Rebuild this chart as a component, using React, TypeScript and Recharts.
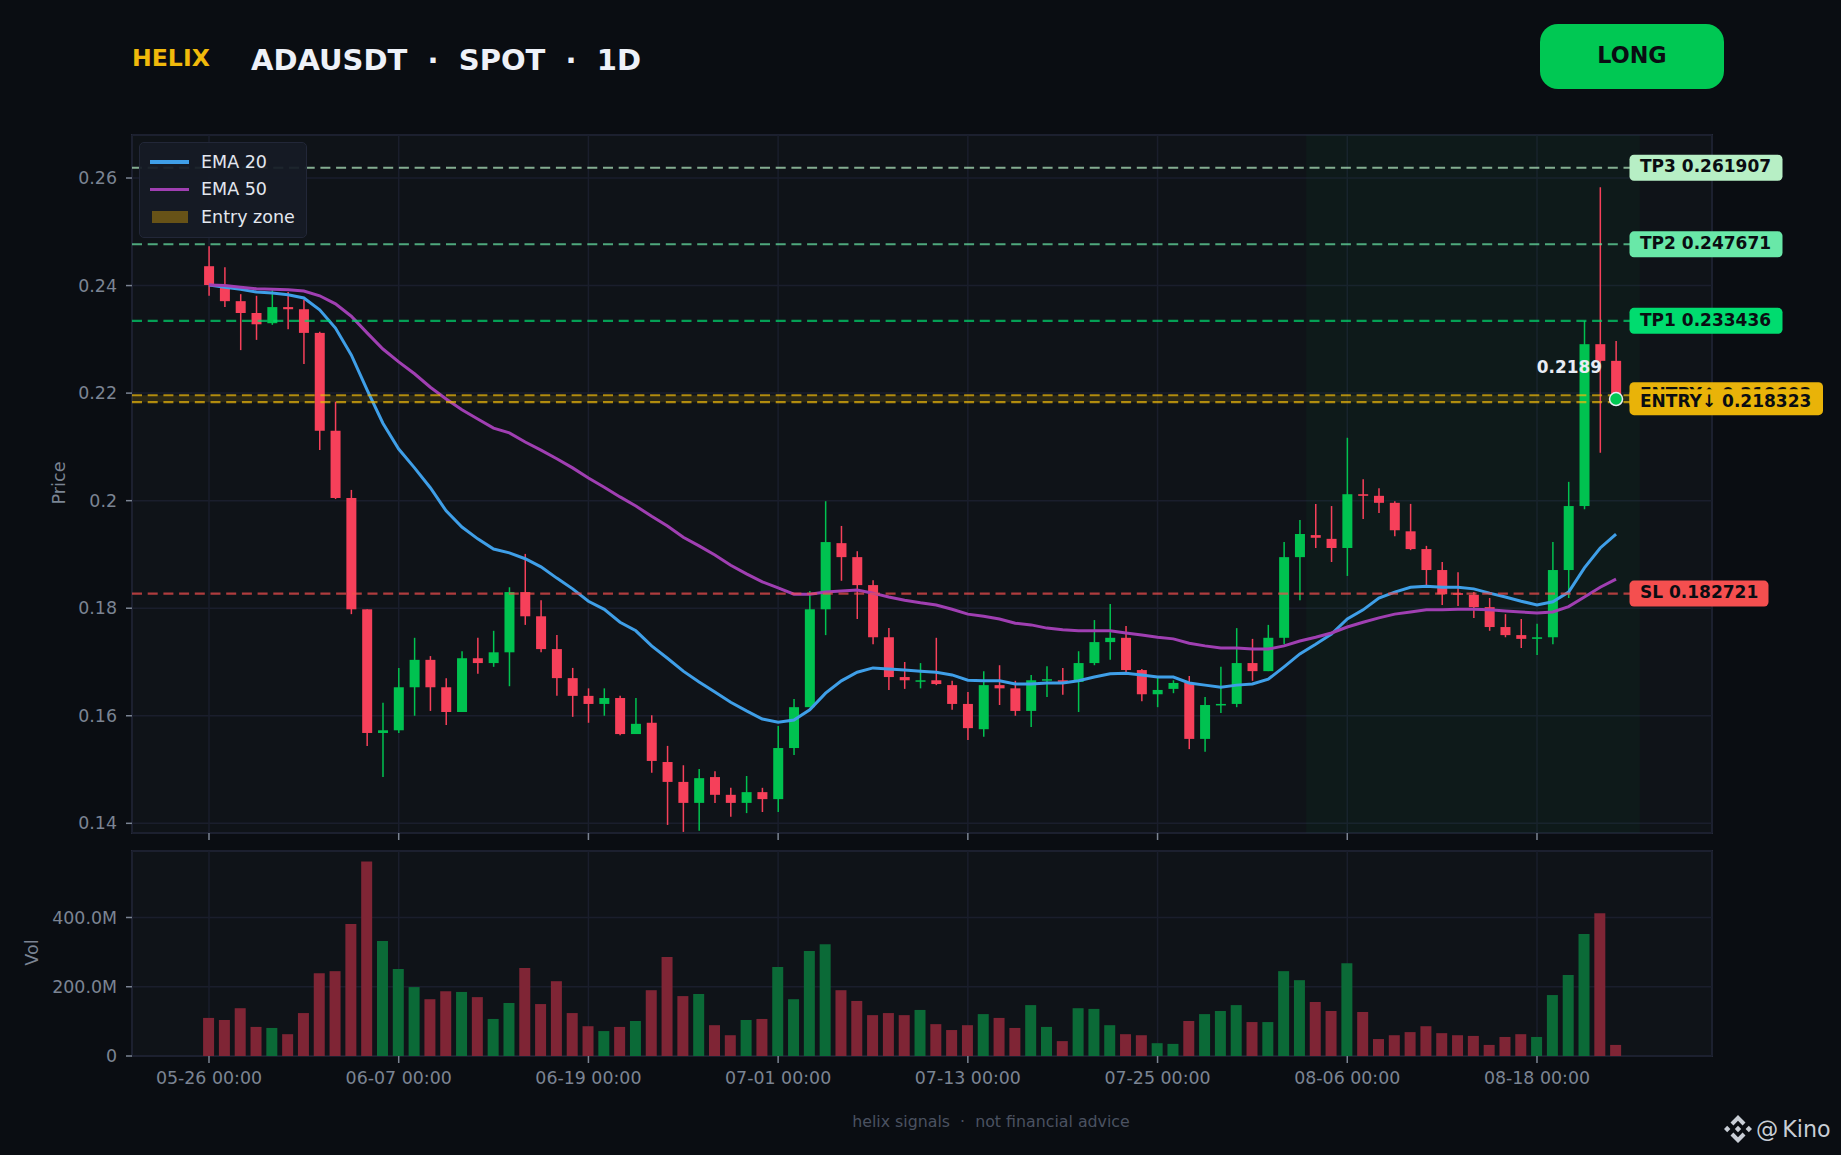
import {
  Bar,
  CartesianGrid,
  Cell,
  ComposedChart,
  Line,
  ReferenceArea,
  ReferenceDot,
  ReferenceLine,
  XAxis,
  YAxis,
} from "recharts";

const opens = [
  0.2436, 0.2401, 0.2371, 0.2349, 0.233, 0.236, 0.2356, 0.2312, 0.213, 0.2005,
  0.1798, 0.1568, 0.1573, 0.1653, 0.1704, 0.1653, 0.1607, 0.1707, 0.1698, 0.1718,
  0.183, 0.1785, 0.1724, 0.167, 0.1637, 0.1622, 0.1633, 0.1566, 0.1587, 0.1514,
  0.1477, 0.1438, 0.1486, 0.1453, 0.1438, 0.1458, 0.1445, 0.154, 0.1616, 0.1798,
  0.1921, 0.1895, 0.1843, 0.1746, 0.1672, 0.1665, 0.1666, 0.1657, 0.1622, 0.1575,
  0.1657, 0.1651, 0.1609, 0.1666, 0.1666, 0.1663, 0.1698, 0.1737, 0.1745, 0.1685,
  0.164, 0.165, 0.1661, 0.1557, 0.162, 0.1622, 0.1698, 0.1683, 0.1745, 0.1895,
  0.1936, 0.1929, 0.1912, 0.2012, 0.2009, 0.1996, 0.1943, 0.191, 0.1871, 0.1828,
  0.1825, 0.1802, 0.1765, 0.175, 0.1743, 0.1746, 0.1871, 0.199, 0.2291, 0.226,
];
const closes = [
  0.2401, 0.2371, 0.2349, 0.2328, 0.236, 0.2356, 0.2312, 0.213, 0.2005, 0.1798,
  0.1568, 0.1573, 0.1653, 0.1704, 0.1653, 0.1607, 0.1707, 0.1698, 0.1718, 0.183,
  0.1785, 0.1724, 0.167, 0.1637, 0.1622, 0.1633, 0.1566, 0.1585, 0.1516, 0.1477,
  0.1438, 0.1484, 0.1453, 0.1438, 0.1458, 0.1445, 0.154, 0.1616, 0.1798, 0.1923,
  0.1895, 0.1843, 0.1746, 0.1672, 0.1666, 0.1666, 0.1659, 0.1622, 0.1577, 0.1657,
  0.1651, 0.1609, 0.1666, 0.1668, 0.1663, 0.1698, 0.1737, 0.1745, 0.1685, 0.164,
  0.1648, 0.1661, 0.1557, 0.162, 0.1622, 0.1698, 0.1683, 0.1745, 0.1895, 0.1938,
  0.1931, 0.1912, 0.2012, 0.2009, 0.1996, 0.1945, 0.191, 0.1871, 0.1826, 0.1825,
  0.1802, 0.1765, 0.175, 0.1743, 0.1746, 0.1871, 0.199, 0.2291, 0.226, 0.2189,
];
const highs = [
  0.2473, 0.2434, 0.2384, 0.2381, 0.2392, 0.2388, 0.2373, 0.2314, 0.2184, 0.202,
  0.1798, 0.1624, 0.1689, 0.1745, 0.1711, 0.167, 0.172, 0.1745, 0.1758, 0.1839,
  0.1901, 0.1815, 0.175, 0.1689, 0.1651, 0.1651, 0.1637, 0.1633, 0.1601, 0.1544,
  0.1508, 0.1501, 0.1497, 0.1466, 0.1488, 0.1466, 0.1581, 0.1631, 0.1832, 0.1999,
  0.1953, 0.1906, 0.1852, 0.1763, 0.17, 0.1698, 0.1745, 0.1665, 0.1644, 0.1683,
  0.1694, 0.1665, 0.1676, 0.1692, 0.1689, 0.172, 0.1778, 0.1808, 0.1767, 0.1687,
  0.1674, 0.1666, 0.1674, 0.1635, 0.1691, 0.1763, 0.1743, 0.1769, 0.1923, 0.1964,
  0.1994, 0.199, 0.2117, 0.204, 0.2023, 0.1999, 0.1994, 0.1916, 0.1886, 0.1867,
  0.183, 0.1819, 0.1789, 0.178, 0.1771, 0.1923, 0.2035, 0.2334, 0.2583, 0.2297,
];
const lows = [
  0.2381, 0.236, 0.228, 0.2299, 0.2327, 0.2319, 0.2254, 0.2094, 0.2003, 0.1789,
  0.1544, 0.1486, 0.1568, 0.16, 0.1609, 0.1583, 0.1607, 0.1678, 0.1691, 0.1655,
  0.1769, 0.1718, 0.1637, 0.1598, 0.1587, 0.16, 0.1564, 0.1566, 0.1494, 0.1397,
  0.1384, 0.1386, 0.1438, 0.1412, 0.1419, 0.1421, 0.1421, 0.1527, 0.1616, 0.175,
  0.1851, 0.178, 0.1733, 0.1648, 0.165, 0.1651, 0.1657, 0.1611, 0.1555, 0.1561,
  0.162, 0.16, 0.1579, 0.1635, 0.1639, 0.1607, 0.1694, 0.1704, 0.1679, 0.1627,
  0.1616, 0.1642, 0.1538, 0.1533, 0.1605, 0.1616, 0.1665, 0.1683, 0.1733, 0.1815,
  0.1912, 0.1886, 0.186, 0.1966, 0.1977, 0.1934, 0.1908, 0.1841, 0.1806, 0.1804,
  0.1782, 0.1758, 0.1746, 0.1726, 0.1713, 0.1733, 0.1819, 0.1984, 0.2089, 0.2189,
];
// volume in millions
const volumes = [
  110, 104, 138, 84, 81, 63, 124, 239, 245, 381,
  562, 332, 251, 199, 164, 187, 185, 170, 107, 153,
  254, 150, 216, 124, 86, 72, 84, 101, 190, 286,
  173, 179, 89, 60, 104, 107, 257, 164, 303, 323,
  190, 159, 118, 124, 118, 133, 92, 75, 89, 121,
  110, 81, 147, 84, 43, 138, 136, 89, 63, 60,
  37, 35, 101, 121, 130, 147, 98, 98, 245, 219,
  156, 130, 268, 127, 49, 60, 69, 86, 66, 60,
  58, 32, 55, 63, 55, 176, 234, 352, 412, 32,
];
const ema20 = [
  0.2401, 0.2397, 0.2393, 0.2388, 0.2386, 0.2383, 0.2377, 0.2355, 0.2321, 0.2271,
  0.2206, 0.2144, 0.2096, 0.2061, 0.2024, 0.1981, 0.1951, 0.1929, 0.191, 0.1903,
  0.1892, 0.1877, 0.1856, 0.1836, 0.1813, 0.1798, 0.1774, 0.1758, 0.173, 0.1707,
  0.1683, 0.1663, 0.1644, 0.1625, 0.1609, 0.1594, 0.1588, 0.1592, 0.1611, 0.1642,
  0.1665, 0.1681, 0.1689, 0.1687, 0.1685, 0.1683, 0.1681, 0.1676, 0.1666, 0.1665,
  0.1665, 0.1659, 0.1659, 0.1661, 0.1661, 0.1665, 0.1672, 0.1678, 0.1679, 0.1676,
  0.1672, 0.1672, 0.1661, 0.1657, 0.1653, 0.1657, 0.1659, 0.1668, 0.1691, 0.1715,
  0.1733, 0.1752, 0.178, 0.1797, 0.1819, 0.183, 0.1839, 0.1841, 0.1839, 0.1839,
  0.1836, 0.1828, 0.1821, 0.1813, 0.1806, 0.1812, 0.183, 0.1875, 0.1912, 0.1938,
];
const ema50 = [
  0.2401, 0.24, 0.2397, 0.2394, 0.2393, 0.2392, 0.239, 0.2381, 0.2366, 0.2343,
  0.2312, 0.2282, 0.2258, 0.2236, 0.2211, 0.2189, 0.2169, 0.2152, 0.2135, 0.2126,
  0.2109, 0.2094, 0.2078, 0.2061, 0.2042, 0.2025, 0.2007, 0.199, 0.1971, 0.1953,
  0.1932, 0.1916, 0.1899, 0.188, 0.1864, 0.1849, 0.1838, 0.1826, 0.1826, 0.183,
  0.1832, 0.1834, 0.1828, 0.1821, 0.1815, 0.181, 0.1806, 0.1798, 0.1789, 0.1785,
  0.178, 0.1772, 0.1769, 0.1763, 0.176, 0.1758, 0.1758, 0.1758, 0.1754, 0.175,
  0.1746, 0.1743, 0.1735, 0.173, 0.1726, 0.1726, 0.1724, 0.1724, 0.173, 0.1739,
  0.1746, 0.1754, 0.1765, 0.1774, 0.1782, 0.1789, 0.1793, 0.1797, 0.1797, 0.1798,
  0.1798, 0.1797, 0.1795, 0.1793, 0.1791, 0.1793, 0.1803, 0.1821, 0.1839, 0.1854,
];
const xTicks = [0, 12, 24, 36, 48, 60, 72, 84];
const xTickLabels = [
  "05-26 00:00", "06-07 00:00", "06-19 00:00", "07-01 00:00",
  "07-13 00:00", "07-25 00:00", "08-06 00:00", "08-18 00:00",
];
const priceTicks = [0.14, 0.16, 0.18, 0.2, 0.22, 0.24, 0.26];
const volumeTicks = [0, 200, 400];

const GREEN = "#00c853";
const RED = "#f6405a";
const GRID = "#1a1e2c";
const FRAME = "#262a3a";
const TICK = "#7b8493";
const FONT = "'DejaVu Sans', sans-serif";
const X_DOMAIN = [-4.87, 95.07];

const candles = opens.map((open, i) => ({
  i,
  open,
  close: closes[i],
  high: highs[i],
  low: lows[i],
  volume: volumes[i],
  ema20: ema20[i],
  ema50: ema50[i],
}));

function Candle(props: any) {
  const { x, y, width, height, payload } = props;
  const up = payload.close >= payload.open;
  const color = up ? "#00c250" : RED;
  const perUnit = height / (payload.high - payload.low);
  const top = y + (payload.high - Math.max(payload.open, payload.close)) * perUnit;
  const bodyH = Math.max(Math.abs(payload.open - payload.close) * perUnit, 1.5);
  const cx = x + width / 2;
  return (
    <g>
      <line x1={cx} x2={cx} y1={y} y2={y + height} stroke={color} strokeWidth={1.5} />
      <rect x={x} y={top} width={width} height={bodyH} fill={color} />
    </g>
  );
}

function PriceTag(props: any) {
  const { viewBox, text, fill, tagWidth } = props;
  const left = viewBox.x + viewBox.width - 82.5;
  return (
    <g>
      <rect x={left} y={viewBox.y - 13} width={tagWidth} height={26} rx={4.5} fill={fill} />
      <text
        x={left + 10.5}
        y={viewBox.y + 4.7}
        fontFamily={FONT}
        fontWeight={700}
        fontSize={17}
        fill="#0a0d12"
      >
        {text}
      </text>
    </g>
  );
}

function LastPriceLabel(props: any) {
  const { viewBox, text } = props;
  return (
    <text
      x={viewBox.x + viewBox.width / 2 - 14}
      y={viewBox.y + viewBox.height / 2 - 26}
      textAnchor="end"
      fontFamily={FONT}
      fontWeight={700}
      fontSize={16.9}
      fill="#e8ecf4"
    >
      {text}
    </text>
  );
}

function ChartLegend() {
  const row = { display: "flex", alignItems: "center", height: 27.5 };
  return (
    <div
      style={{
        position: "absolute", left: 140, top: 143, width: 166, height: 94,
        background: "rgba(22,27,38,0.93)", outline: "1.5px solid #222738",
        borderRadius: 4, color: "#e3e7ef", fontSize: 17.5, boxSizing: "border-box", padding: "5px 0 0 10px",
      }}
    >
      <div style={row}>
        <span style={{ width: 39, height: 3.5, background: "#3f9fe8", marginRight: 12 }} />EMA 20
      </div>
      <div style={row}>
        <span style={{ width: 39, height: 3.5, background: "#a03fb2", marginRight: 12 }} />EMA 50
      </div>
      <div style={row}>
        <span style={{ width: 36, height: 12, background: "#675217", margin: "0 13px 0 2px" }} />Entry zone
      </div>
    </div>
  );
}

function Logo() {
  return (
    <svg style={{ position: "absolute", left: 1724, top: 1115 }} width={28} height={28} viewBox="0 0 28 28" fill="#c9ced6">
      <path d="M14 0 L21.5 7.5 L18.6 10.4 L14 5.8 L9.4 10.4 L6.5 7.5 Z" />
      <path d="M14 28 L21.5 20.5 L18.6 17.6 L14 22.2 L9.4 17.6 L6.5 20.5 Z" />
      <path d="M14 10.8 L17.2 14 L14 17.2 L10.8 14 Z" />
      <path d="M3.2 10.8 L6.4 14 L3.2 17.2 L0 14 Z" />
      <path d="M24.8 10.8 L28 14 L24.8 17.2 L21.6 14 Z" />
    </svg>
  );
}

function Frame({ top, height }: { top: number; height: number }) {
  return (
    <div
      style={{
        position: "absolute", left: 131, top, width: 1582, height,
        background: "#0f1318", border: `2px solid ${FRAME}`, boxSizing: "border-box",
      }}
    />
  );
}

export default function App() {
  return (
    <div
      style={{
        position: "absolute", left: 0, top: 0, width: 1841, height: 1155,
        background: "#0a0d12", overflow: "hidden", fontFamily: FONT,
      }}
    >
      <div style={{ position: "absolute", left: 132, top: 43, fontSize: 23.6, lineHeight: "30px", fontWeight: 700, color: "#f0b90b" }}>
        HELIX
      </div>
      <div style={{ position: "absolute", left: 251, top: 42, fontSize: 29, lineHeight: "36px", fontWeight: 700, color: "#eef1f8", whiteSpace: "pre" }}>
        {"ADAUSDT  ·  SPOT  ·  1D"}
      </div>
      <div
        style={{
          position: "absolute", left: 1540, top: 24, width: 184, height: 65, borderRadius: 18,
          background: GREEN, color: "#0a0d12", fontSize: 22.3, fontWeight: 700, textAlign: "center", lineHeight: "63px",
        }}
      >
        LONG
      </div>

      <Frame top={134} height={700} />
      <Frame top={850} height={207} />

      <div style={{ position: "absolute", left: 0, top: 0 }}>
        <ComposedChart
          width={1841}
          height={860}
          data={candles}
          margin={{ top: 135, right: 129, bottom: 7, left: 62 }}
        >
          <CartesianGrid stroke={GRID} strokeWidth={1.5} />
          <XAxis
            dataKey="i"
            type="number"
            domain={X_DOMAIN}
            ticks={xTicks}
            interval={0}
            height={20}
            axisLine={false}
            tickSize={7}
            tickLine={{ stroke: TICK, strokeWidth: 1.5 }}
            tickFormatter={() => ""}
          />
          <YAxis
            type="number"
            domain={[0.1382, 0.268]}
            allowDataOverflow
            ticks={priceTicks}
            interval={0}
            width={70}
            axisLine={false}
            tickSize={6}
            tickMargin={9}
            tickLine={{ stroke: TICK, strokeWidth: 1.5 }}
            tick={{ fill: TICK, fontSize: 17.4, fontFamily: FONT }}
            label={{
              value: "Price",
              angle: -90,
              position: "insideLeft",
              offset: -3,
              dy: -1,
              style: { textAnchor: "middle", fill: TICK, fontSize: 17.6, fontFamily: FONT },
            }}
          />
          <ReferenceArea x1={69.4} x2={90.5} fill={GREEN} fillOpacity={0.04} stroke="none" />
          <Bar
            dataKey={(d: any) => [d.low, d.high]}
            barSize={10}
            shape={<Candle />}
            isAnimationActive={false}
          />
          <Line dataKey="ema20" type="linear" stroke="#3f9fe8" strokeWidth={3} dot={false} isAnimationActive={false} />
          <Line dataKey="ema50" type="linear" stroke="#a03fb2" strokeWidth={3} dot={false} isAnimationActive={false} />
          <ReferenceArea y1={0.218323} y2={0.219603} fill="#f0b90b" fillOpacity={0.13} stroke="none" />
          <ReferenceLine y={0.261907} stroke="#b7efc5" strokeOpacity={0.7} strokeWidth={2.1} strokeDasharray="10 5.7"
            label={<PriceTag text="TP3 0.261907" fill="#b7efc5" tagWidth={153} />} />
          <ReferenceLine y={0.247671} stroke="#69e8a8" strokeOpacity={0.7} strokeWidth={2.1} strokeDasharray="10 5.7"
            label={<PriceTag text="TP2 0.247671" fill="#69e8a8" tagWidth={153} />} />
          <ReferenceLine y={0.233436} stroke="#00dc6f" strokeOpacity={0.7} strokeWidth={2.1} strokeDasharray="10 5.7"
            label={<PriceTag text="TP1 0.233436" fill="#00dc6f" tagWidth={153} />} />
          <ReferenceLine y={0.182721} stroke="#f44f4f" strokeOpacity={0.7} strokeWidth={2.1} strokeDasharray="10 5.7"
            label={<PriceTag text="SL 0.182721" fill="#f44f4f" tagWidth={139} />} />
          <ReferenceLine y={0.219603} stroke="#f0b90b" strokeOpacity={0.7} strokeWidth={2.1} strokeDasharray="10 5.7"
            label={<PriceTag text="ENTRY↑ 0.219603" fill="#e8b20b" tagWidth={193.5} />} />
          <ReferenceLine y={0.218323} stroke="#f0b90b" strokeOpacity={0.7} strokeWidth={2.1} strokeDasharray="10 5.7"
            label={<PriceTag text="ENTRY↓ 0.218323" fill="#e9b308" tagWidth={193.5} />} />
          <ReferenceDot
            x={89}
            y={0.2189}
            r={6.5}
            fill={GREEN}
            stroke="#e8ecf4"
            strokeWidth={1.5}
            label={<LastPriceLabel text="0.2189" />}
          />
        </ComposedChart>
      </div>

      <div style={{ position: "absolute", left: 0, top: 830 }}>
        <ComposedChart
          width={1841}
          height={325}
          data={candles}
          margin={{ top: 21, right: 129, bottom: 59, left: 62 }}
        >
          <CartesianGrid stroke={GRID} strokeWidth={1.5} />
          <XAxis
            dataKey="i"
            type="number"
            domain={X_DOMAIN}
            ticks={xTicks}
            interval={0}
            height={40}
            axisLine={false}
            tickSize={7}
            tickMargin={9}
            tickLine={{ stroke: TICK, strokeWidth: 1.5 }}
            tick={{ fill: TICK, fontSize: 17.4, fontFamily: FONT }}
            tickFormatter={(v: number) => xTickLabels[xTicks.indexOf(v)]}
          />
          <YAxis
            type="number"
            domain={[0, 592]}
            allowDataOverflow
            ticks={volumeTicks}
            interval={0}
            width={70}
            axisLine={false}
            tickSize={6}
            tickMargin={9}
            tickLine={{ stroke: TICK, strokeWidth: 1.5 }}
            tick={{ fill: TICK, fontSize: 17.4, fontFamily: FONT }}
            tickFormatter={(v: number) => (v === 0 ? "0" : `${v.toFixed(1)}M`)}
            label={{
              value: "Vol",
              angle: -90,
              position: "insideLeft",
              offset: -30,
              dy: -1,
              style: { textAnchor: "middle", fill: TICK, fontSize: 17.6, fontFamily: FONT },
            }}
          />
          <Bar dataKey="volume" barSize={11} isAnimationActive={false}>
            {candles.map((c) => (
              <Cell key={c.i} fill={c.close >= c.open ? "#0b6a37" : "#7f2535"} />
            ))}
          </Bar>
        </ComposedChart>
      </div>

      <ChartLegend />

      <div style={{ position: "absolute", left: 691, width: 600, top: 1113, textAlign: "center", fontSize: 15.8, lineHeight: "18px", color: "#4b5261", whiteSpace: "pre" }}>
        {"helix signals  ·  not financial advice"}
      </div>
      <Logo />
      <div style={{ position: "absolute", left: 1756, top: 1116, fontSize: 22.2, lineHeight: "26px", color: "#c9ced6", whiteSpace: "pre", wordSpacing: -3 }}>
        {"@ Kino"}
      </div>
    </div>
  );
}
